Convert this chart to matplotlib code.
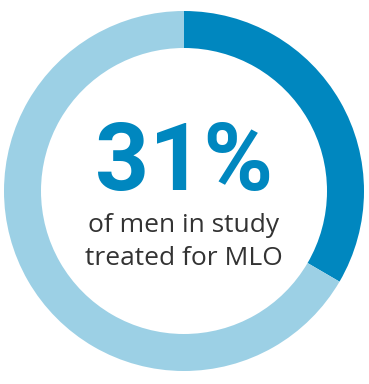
import matplotlib
matplotlib.use("Agg")
import matplotlib.pyplot as plt

# Data
labels = ["Treated for MLO", "Not treated"]
shares = [33.4, 66.6]          # arc shares as drawn in the reference
headline = "31%"
caption = ["of men in study", "treated for MLO"]
colors = ["#0087BF", "#9CD0E5"]

W, H = 369, 384
fig = plt.figure(figsize=(W / 100, H / 100), dpi=100)
ax = fig.add_axes([0, 0, 1, 1])

ax.pie(shares, radius=180, center=(184, H - 191), startangle=90,
       counterclock=False, colors=colors,
       wedgeprops=dict(width=37, linewidth=0), frame=True)
ax.set_xlim(0, W)
ax.set_ylim(0, H)
ax.axis("off")

ax.text(184, H - 190, headline, ha="center", va="baseline",
        fontsize=68, fontweight="bold", color="#0087BF", family="Roboto")
ax.text(184, H - 231.7, caption[0], ha="center", va="baseline",
        fontsize=19, color="#333333", family="Open Sans")
ax.text(184, H - 265, caption[1], ha="center", va="baseline",
        fontsize=19, color="#333333", family="Open Sans")

fig.savefig("out.png", dpi=100)
